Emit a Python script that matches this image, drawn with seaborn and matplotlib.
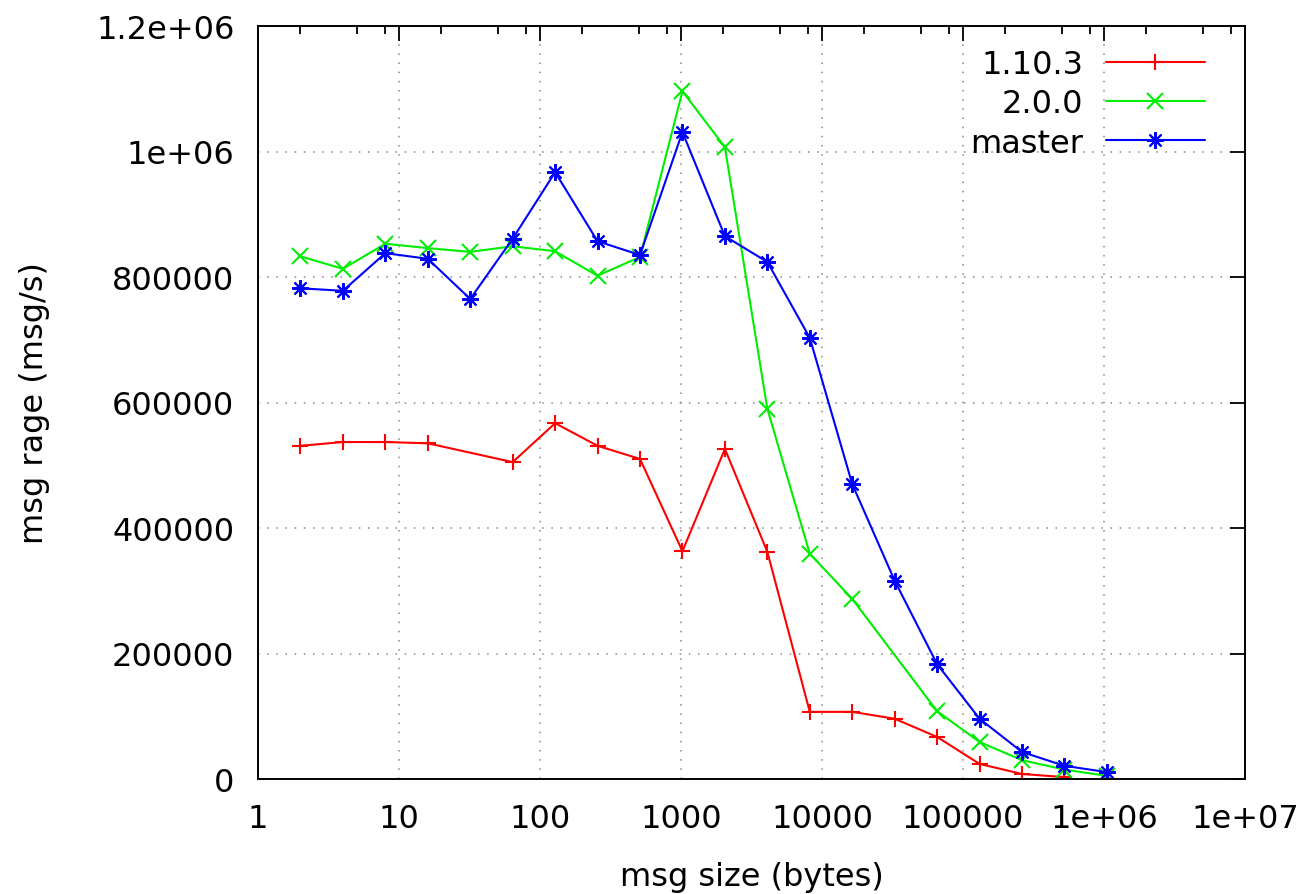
import matplotlib
matplotlib.use("Agg")
import matplotlib.pyplot as plt
import seaborn as sns
import pandas as pd
from matplotlib.ticker import FixedLocator, LogLocator, NullFormatter

# ---- data ----
sizes_v1103 = [2, 4, 8, 16, 64, 128, 256, 512, 1024, 2048, 4096, 8192, 16384,
               32768, 65536, 131072, 262144, 524288]
rate_v1103 = [531000, 537000, 537000, 535000, 505000, 567000, 531000, 510000,
              363000, 526000, 362000, 107000, 107000, 96000, 67000, 24000, 8000, 3000]

sizes_v200 = [2, 4, 8, 16, 32, 64, 128, 256, 512, 1024, 2048, 4096, 8192, 16384,
              65536, 131072, 262144, 524288, 1048576]
rate_v200 = [833000, 813000, 853000, 846000, 840000, 849000, 841000, 802000, 832000,
             1096000, 1007000, 590000, 359000, 287000, 108000, 59000, 30000, 15000, 5000]

sizes_master = [2, 4, 8, 16, 32, 64, 128, 256, 512, 1024, 2048, 4096, 8192, 16384,
                32768, 65536, 131072, 262144, 524288, 1048576]
rate_master = [782000, 778000, 838000, 829000, 765000, 861000, 967000, 857000, 835000,
               1031000, 865000, 824000, 703000, 470000, 316000, 183000, 96000, 43000,
               21000, 11000]

series_labels = ["1.10.3", "2.0.0", "master"]
series_colors = ["#ff0000", "#00ee00", "#0000ff"]
series_markers = ["+", "x", (8, 2, 0)]

x_ticks = [1, 10, 100, 1000, 10000, 100000, 1000000, 10000000]
x_ticklabels = ["1", "10", "100", "1000", "10000", "100000", "1e+06", "1e+07"]
y_ticks = [0, 200000, 400000, 600000, 800000, 1000000, 1200000]
y_ticklabels = ["0", "200000", "400000", "600000", "800000", "1e+06", "1.2e+06"]

# ---- style ----
sns.set_style("white")
plt.rcParams["font.family"] = ["DejaVu Sans"]
plt.rcParams["text.color"] = "black"
plt.rcParams["axes.labelcolor"] = "black"
plt.rcParams["xtick.color"] = "black"
plt.rcParams["ytick.color"] = "black"

W, H = 1316, 895
fig = plt.figure(figsize=(W / 100, H / 100), dpi=100)
L, R, T, B = 258, 1245, 27, 780
ax = fig.add_axes([L / W, 1 - B / H, (R - L) / W, (B - T) / H])

data = [(sizes_v1103, rate_v1103), (sizes_v200, rate_v200), (sizes_master, rate_master)]
for (xs, ys), lab, col, mk in zip(data, series_labels, series_colors, series_markers):
    df = pd.DataFrame({"size": xs, "rate": ys})
    sns.lineplot(data=df, x="size", y="rate", ax=ax, color=col, marker=mk,
                 markersize=12, markeredgecolor=col, markerfacecolor=col,
                 markeredgewidth=1.5, linewidth=1.5, label=lab, errorbar=None)

ax.set_xscale("log")
ax.set_xlim(1, 1e7)
ax.set_ylim(0, 1.2e6)
ax.xaxis.set_major_locator(FixedLocator(x_ticks))
ax.set_xticklabels(x_ticklabels)
ax.xaxis.set_minor_locator(LogLocator(base=10, subs=(2, 5, 8), numticks=30))
ax.xaxis.set_minor_formatter(NullFormatter())
ax.set_yticks(y_ticks)
ax.set_yticklabels(y_ticklabels)

ax.tick_params(which="major", direction="in", length=11, width=1.3,
               top=True, right=True, labelsize=23, pad=17, colors="black")
ax.tick_params(which="minor", direction="in", length=5.5, width=1.3,
               top=True, right=True)
ax.grid(True, which="major", linestyle=(0, (1, 5)), color="#888888", linewidth=1.1)

for s in ax.spines.values():
    s.set_visible(True)
    s.set_color("black")
    s.set_linewidth(1.4)

ax.set_xlabel("msg size (bytes)", fontsize=23, labelpad=20, color="black")
ax.set_ylabel("msg rage (msg/s)", fontsize=23, labelpad=33, color="black")

leg = ax.legend(loc="upper right", bbox_to_anchor=((1205 - L) / (R - L), 1 - (50 - T) / (B - T)),
                frameon=False, markerfirst=False, fontsize=23, handlelength=3.1,
                handletextpad=0.7, labelspacing=0.26, borderpad=0, borderaxespad=0)
for col in leg._legend_box.get_children()[1].get_children():
    col.align = "right"
for t in leg.get_texts():
    t.set_color("black")

fig.savefig("out.png", dpi=100)
